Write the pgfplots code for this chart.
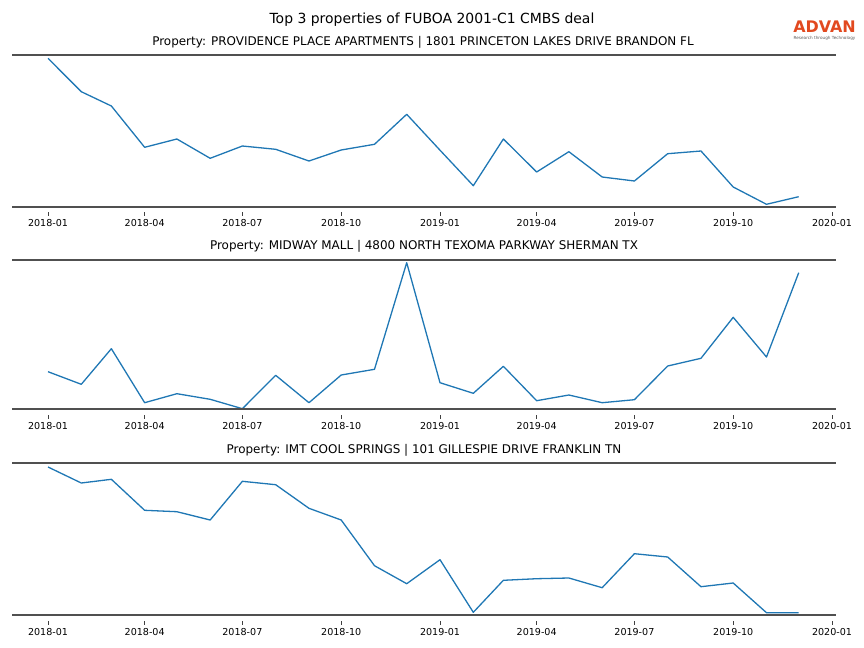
\documentclass[border=0pt]{standalone}
\usepackage{pgfplots}
\usepackage{pgfplotstable}
\pgfplotsset{compat=1.18}
\usepackage{fontspec}
\setmainfont{DejaVu Sans}
\definecolor{mplblue}{HTML}{1F77B4}
\definecolor{spinegray}{HTML}{505050}
\definecolor{advan}{HTML}{E2491F}

\pgfplotstableread{
x p1 p2 p3
0 148.4 37.6 148.3
31 115.0 25.0 132.3
59 100.7 60.6 136.0
90 59.4 6.6 105.0
120 67.7 15.6 103.6
151 48.4 10.0 95.3
181 60.7 0.6 134.0
212 57.4 34.0 130.6
243 45.7 6.6 107.0
273 56.7 34.3 95.3
304 62.4 40.0 49.6
334 92.4 146.6 31.6
365 56.5 26.6 55.6
396 21.0 16.0 3.0
424 67.7 43.0 35.0
455 34.7 8.6 36.6
485 55.0 14.3 37.3
516 29.7 6.6 27.6
546 25.7 9.6 61.6
577 53.0 43.3 58.3
608 55.7 51.0 28.6
638 19.7 92.0 32.3
669 2.4 52.3 2.6
699 10.0 136.6 2.6
}\datatable

\tikzset{
 spine/.style={spinegray, line width=2bp},
 series/.style={mplblue, line width=1.3bp, line join=round},
}
\pgfplotsset{
 panel/.style={
  scale only axis, width=824bp,
  xmin=-33.52, xmax=733.72,
  axis line style={draw=none},
  ytick=\empty,
  xtick={0,90,181,273,365,455,546,638,730},
  xticklabels={2018-01,2018-04,2018-07,2018-10,2019-01,2019-04,2019-07,2019-10,2020-01},
  xtick pos=bottom, tick align=outside, major tick length=4bp,
  xtick style={black!75, line width=0.8bp},
  xticklabel style={font=\fontsize{9.6}{10}\selectfont, inner sep=0pt, yshift=-3.6bp},
  clip=false,
  anchor=north west,
 },
}

\begin{document}
\begin{tikzpicture}
\path (0,0) rectangle (864bp,-648bp);

\begin{axis}[panel, at={(12bp,-55bp)}, height=156.7bp, ymin=-5, ymax=151.7]
\addplot[series, no marks] table[x=x, y=p1] {\datatable};
\draw[spine] (rel axis cs:0,1) -- (rel axis cs:1,1);
\draw[spine] (axis cs:-33.52,0) -- (axis cs:733.72,0);
\end{axis}

\begin{axis}[panel, at={(12bp,-260bp)}, height=154.5bp, ymin=-5.2, ymax=149.3]
\addplot[series, no marks] table[x=x, y=p2] {\datatable};
\draw[spine] (rel axis cs:0,1) -- (rel axis cs:1,1);
\draw[spine] (axis cs:-33.52,0) -- (axis cs:733.72,0);
\end{axis}

\begin{axis}[panel, at={(12bp,-463bp)}, height=157.5bp, ymin=-5.2, ymax=152.3]
\addplot[series, no marks] table[x=x, y=p3] {\datatable};
\draw[spine] (rel axis cs:0,1) -- (rel axis cs:1,1);
\draw[spine] (axis cs:-33.52,0) -- (axis cs:733.72,0);
\end{axis}

\node[font=\fontsize{14}{16}\selectfont] at (432bp,-20bp) {Top 3 properties of FUBOA 2001-C1 CMBS deal};
\node[font=\fontsize{12}{14}\selectfont] at (423bp,-42bp) {Property: PROVIDENCE PLACE APARTMENTS | 1801 PRINCETON LAKES DRIVE BRANDON FL};
\node[font=\fontsize{12}{14}\selectfont] at (424bp,-246bp) {Property: MIDWAY MALL | 4800 NORTH TEXOMA PARKWAY SHERMAN TX};
\node[font=\fontsize{12}{14}\selectfont] at (424bp,-450bp) {Property: IMT COOL SPRINGS | 101 GILLESPIE DRIVE FRANKLIN TN};

\node[text=advan, font=\bfseries\fontsize{16}{16}\selectfont, inner sep=0pt] at (824.5bp,-27bp) {ADVAN};
\node[text=black!65, font=\fontsize{4.2}{4.2}\selectfont, inner sep=0pt] at (824.5bp,-38.5bp) {Research through Technology};
\end{tikzpicture}
\end{document}
